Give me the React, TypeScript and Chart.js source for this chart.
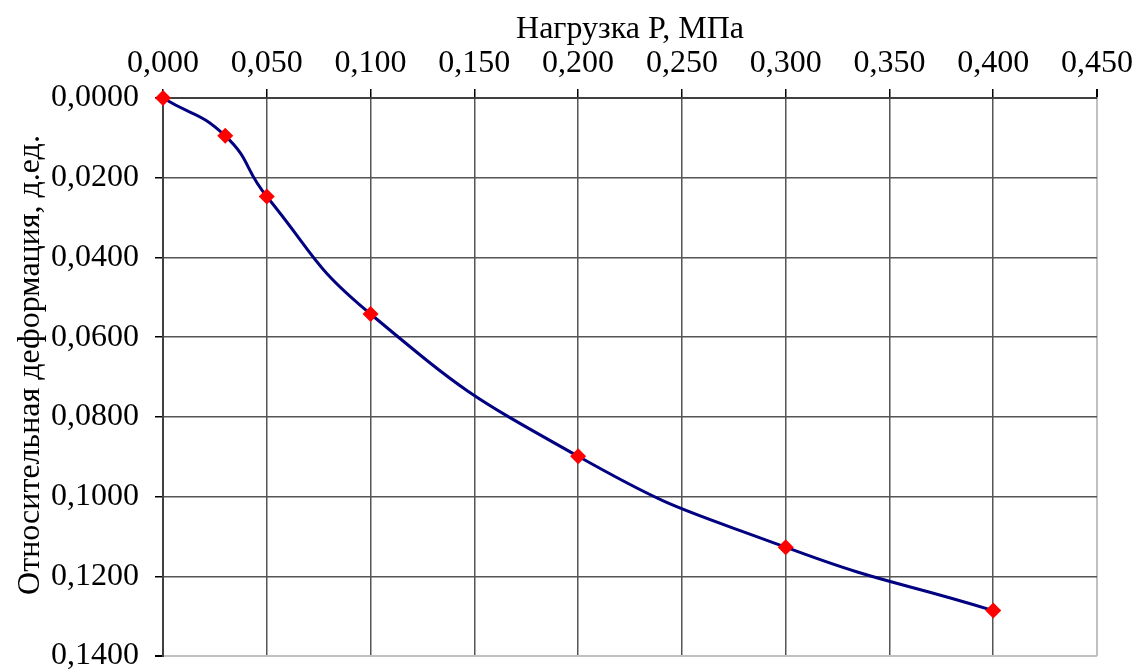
import React, { useEffect, useRef } from 'react';
import { Chart, registerables } from 'chart.js';
Chart.register(...registerables);

const loadP = [0, 0.03, 0.05, 0.1, 0.2, 0.3, 0.4];
const strain = [0, 0.0095, 0.0247, 0.0542, 0.0899, 0.1127, 0.1286];
const xTitle = 'Нагрузка P, МПа';
const yTitle = 'Относительная деформация, д.ед.';
const xMin = 0, xMax = 0.45, xStep = 0.05;
const yMin = 0, yMax = 0.14, yStep = 0.02;

export default function App() {
  const ref = useRef<HTMLCanvasElement>(null);
  useEffect(() => {
    const family = "'Liberation Serif', 'Times New Roman', serif";
    const chart = new Chart(ref.current!, {
      type: 'scatter',
      data: {
        datasets: [{
          data: loadP.map((x, i) => ({ x, y: strain[i] })),
          showLine: true,
          borderColor: '#000080',
          borderWidth: 3,
          tension: 0.5,
          pointStyle: 'rectRot',
          pointRadius: 8,
          pointBackgroundColor: '#ff0000',
          pointBorderColor: '#ff0000',
          pointBorderWidth: 0,
          clip: false,
        } as any],
      },
      options: {
        animation: false,
        responsive: false,
        maintainAspectRatio: false,
        layout: { padding: { left: 0, right: 40, top: 0, bottom: 13 } },
        plugins: { legend: { display: false }, tooltip: { enabled: false } },
        scales: {
          x: {
            type: 'linear',
            position: 'top',
            min: xMin,
            max: xMax,
            ticks: {
              stepSize: xStep,
              callback: (v: any) => Number(v).toFixed(3).replace('.', ','),
              font: { family, size: 32 },
              color: '#000',
              padding: 6,
              maxRotation: 0,
              autoSkip: false,
            },
            grid: {
              color: (ctx: any) => (ctx.tick && ctx.tick.value >= xMax - 1e-9 ? '#c0c0c0' : '#555555'),
              lineWidth: (ctx: any) => (ctx.tick && ctx.tick.value >= xMax - 1e-9 ? 2 : 1.5),
              tickColor: '#000',
              tickLength: 9,
              drawTicks: true,
            },
            border: { display: true, color: '#404040', width: 2 },
            title: {
              display: true,
              text: xTitle,
              font: { family, size: 32 },
              color: '#000',
              padding: { top: 10, bottom: 0 },
            },
            afterFit: (s: any) => { s.height = 98; s.paddingLeft = 0; s.paddingRight = 0; },
          } as any,
          y: {
            type: 'linear',
            reverse: true,
            min: yMin,
            max: yMax,
            ticks: {
              stepSize: yStep,
              callback: (v: any) => Number(v).toFixed(4).replace('.', ','),
              font: { family, size: 32 },
              color: '#000',
              padding: 16,
              autoSkip: false,
            },
            grid: {
              color: (ctx: any) => (ctx.tick && ctx.tick.value >= yMax - 1e-9 ? '#c0c0c0' : '#555555'),
              lineWidth: (ctx: any) => (ctx.tick && ctx.tick.value >= yMax - 1e-9 ? 2 : 1.5),
              tickColor: '#000',
              tickLength: 8,
              drawTicks: true,
            },
            border: { display: true, color: '#404040', width: 2 },
            title: {
              display: true,
              text: '\u00A0\u00A0\u00A0' + yTitle,
              font: { family, size: 32 },
              color: '#000',
              padding: { top: 11, bottom: 0 },
            },
            afterFit: (s: any) => { s.width = 163; s.paddingTop = 0; s.paddingBottom = 0; },
          } as any,
        },
      },
    });
    return () => chart.destroy();
  }, []);
  return (
    <div style={{ position: 'fixed', left: 0, top: 0, width: 1137, height: 669, background: '#fff' }}>
      <canvas ref={ref} width={1137} height={669} style={{ width: 1137, height: 669, display: 'block' }} />
    </div>
  );
}
